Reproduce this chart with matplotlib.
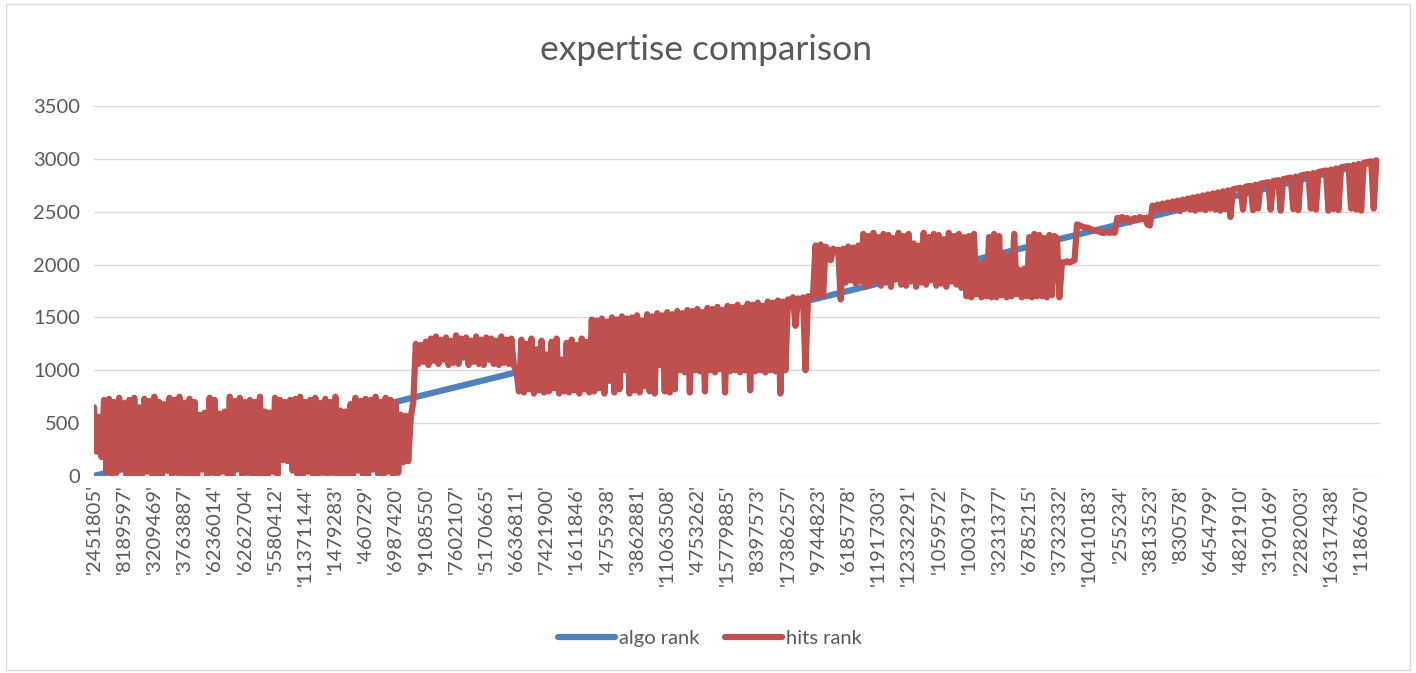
import numpy as np
import matplotlib
matplotlib.use("Agg")
import matplotlib.pyplot as plt
from matplotlib.lines import Line2D
from matplotlib.patches import Rectangle

# ---------------- data ----------------
title = "expertise comparison"
series_names = ["algo rank", "hits rank"]

tick_labels = ["'2451805'", "'8189597'", "'3209469'", "'3763887'", "'6236014'", "'6262704'",
               "'5580412'", "'11371144'", "'1479283'", "'460729'", "'6987420'", "'9108550'",
               "'7602107'", "'5170665'", "'6636811'", "'7421900'", "'1611846'", "'4755938'",
               "'3862881'", "'11063508'", "'4753262'", "'15779885'", "'8397573'", "'17386257'",
               "'9744823'", "'6185778'", "'11917303'", "'12332291'", "'1059572'", "'1003197'",
               "'3231377'", "'6785215'", "'3732332'", "'10410183'", "'255234'", "'3813523'",
               "'830578'", "'6454799'", "'4821910'", "'3190169'", "'2282003'", "'16317438'",
               "'1186670'"]

# algo rank at each labelled category, plus the last category
algo_rank = [1, 71, 141, 211, 281, 351, 421, 491, 561, 631, 701, 771, 841, 911, 981,
             1051, 1121, 1191, 1261, 1331, 1401, 1471, 1541, 1611, 1681, 1751, 1821, 1891,
             1961, 2031, 2101, 2171, 2241, 2311, 2381, 2451, 2521, 2591, 2661, 2731, 2801,
             2871, 2941, 2976]

# hits rank, sampled along the categories
hits_rank = [
    # block 1
    650, 230, 560, 180, 720, 40, 730, 10,
    700, 30, 740, 60, 690, 0, 720, 20,
    740, 10, 650, 0, 730, 40, 710, 20,
    750, 20, 700, 0, 680, 50, 740, 10,
    720, 30, 750, 0, 690, 10, 730, 20,
    700, 0, 580, 60, 600, 10, 740, 30,
    720, 0, 590, 40, 610, 20, 750, 0,
    710, 60, 740, 10, 700, 30, 720, 0,
    700, 20, 750, 10, 610, 0, 600, 40,
    740, 10, 720, 150, 700, 140, 720, 50,
    730, 10, 750, 0, 700, 40, 720, 20,
    740, 0, 690, 30, 730, 10, 700, 30,
    750, 0, 620, 20, 610, 20, 680, 0,
    740, 50, 710, 10, 730, 0, 720, 60,
    750, 20, 700, 0, 740, 40, 720, 10,
    690, 30, 580, 130, 570, 140, 560, 700,
    # block 2
    1250, 1060, 1240, 1080, 1270, 1050, 1300, 1090,
    1320, 1060, 1290, 1100, 1310, 1050, 1280, 1070,
    1330, 1060, 1300, 1120, 1310, 1050, 1280, 1080,
    1320, 1060, 1290, 1050, 1310, 1100, 1300, 1060,
    1280, 1050, 1320, 1070, 1290, 1060, 1300, 1040,
    # block 3
    1000, 800, 1290, 790, 1250, 820, 1300, 780,
    1200, 810, 1280, 790, 1150, 800, 1270, 830,
    1300, 780, 1100, 800, 1260, 790, 1290, 810,
    1240, 780, 1300, 820, 1270, 790,
    # block 4
    1480, 800, 1470, 830, 1490, 780, 1460, 900,
    1500, 790, 1480, 820, 1510, 1000, 1490, 780,
    1500, 810, 1520, 790, 1470, 850, 1530, 800,
    1510, 780, 1540, 1050, 1520, 800, 1550, 790,
    1530, 820, 1560, 1000, 1540, 980, 1570, 790,
    1560, 1000, 1580, 990, 1550, 800, 1590, 1000,
    1580, 980, 1600, 1010, 1570, 790, 1610, 990,
    1600, 1000, 1620, 980, 1590, 1000, 1630, 810,
    1620, 990, 1640, 1000, 1610, 980, 1650, 1000,
    1640, 990, 1660, 780, 1650, 1000, 1670,
    1660, 1690, 1420, 1680, 1650, 1690, 1000, 1700, 1690, 1720,
    # block 5
    2180, 1700, 2190, 1710, 2170, 2140, 2040, 2150, 2130, 2140,
    1670, 2150, 1830, 2170, 1850, 2160, 1820, 2180, 1840, 2290,
    1790, 2270, 1820, 2300, 1850, 2260, 1800, 2290,
    1830, 2280, 1790, 2250, 1860, 2300, 1810, 2270,
    1800, 2290, 1840, 2200, 1790, 2180, 1830, 2300,
    1810, 2260, 1850, 2290, 1800, 2280, 1820, 2240,
    1790, 2300, 1840, 2270, 1810, 2290, 1780, 2260,
    1700, 2270, 1690, 2290, 1720, 2000, 1690, 2020,
    1700, 2260, 1690, 2290, 1690, 2270, 1710, 2100,
    1690, 2080, 1700, 2290, 1720, 1950, 1690, 1960,
    1700, 2260, 1690, 2290, 1700, 2280, 1700, 2250,
    1690, 2280, 1710, 2270, 2250, 1690,
    # block 6
    2020, 2020, 2030, 2020, 2030, 2040,
    2380, 2370, 2360, 2350, 2350, 2340, 2330, 2320,
    2320, 2310, 2300, 2300, 2310, 2300, 2310, 2300,
    2440, 2430, 2450, 2420, 2440, 2400, 2430, 2440,
    2420, 2450, 2430, 2440, 2380, 2370,
    # block 7
    2558, 2520, 2567, 2510, 2577, 2530, 2587, 2515, 2596, 2525,
    2606, 2505, 2615, 2530, 2625, 2520, 2635, 2510, 2644, 2525,
    2654, 2515, 2664, 2530, 2673, 2520, 2683, 2510, 2693, 2525,
    2702, 2450, 2712, 2717, 2721, 2726, 2520, 2736, 2741, 2745,
    2515, 2755, 2530, 2765, 2770, 2774, 2779, 2520, 2789, 2794,
    2798, 2510, 2808, 2813, 2818, 2822, 2525, 2832, 2515, 2842,
    2847, 2851, 2856, 2530, 2866, 2520, 2875, 2880, 2885, 2890,
    2510, 2899, 2525, 2909, 2515, 2919, 2924, 2928, 2933, 2530,
    2943, 2520, 2952, 2510, 2962, 2967, 2972, 2976, 2530, 2986,
]

# ---------------- style ----------------
BLUE = "#4F81BD"
RED = "#C0504D"
TXT = "#595959"
GRID = "#D9D9D9"
FONT = ["Lato", "DejaVu Sans"]
plt.rcParams["font.family"] = FONT
plt.rcParams["path.simplify"] = False

W, H = 1416, 673
fig = plt.figure(figsize=(W / 100, H / 100), dpi=100)
fig.patch.set_facecolor("white")

# chart-area border
fig.patches.append(Rectangle((6 / W, 3 / H), (1410 - 6) / W, (669 - 3) / H,
                             transform=fig.transFigure, fill=False,
                             edgecolor=GRID, linewidth=1.0))

ax = fig.add_axes([94 / W, (H - 476) / H, (1380 - 94) / W, (476 - 106) / H])

step = 12
n = len(hits_rank)
x_hits = np.arange(n)
tick_pos = np.arange(len(tick_labels)) * step
x_algo = list(tick_pos) + [n - 1]

LW = 4.5
ax.plot(x_algo, algo_rank, color=BLUE, lw=LW, solid_capstyle="round",
        solid_joinstyle="round", zorder=3)
ax.plot(x_hits, hits_rank, color=RED, lw=LW, solid_capstyle="round",
        solid_joinstyle="round", zorder=4)

ax.set_xlim(0, 511.5)
ax.set_ylim(0, 3500)
ax.set_yticks(np.arange(0, 3501, 500))
ax.set_xticks(tick_pos)
ax.set_xticklabels(tick_labels, rotation=90)
for s in ax.spines.values():
    s.set_visible(False)
ax.grid(axis="y", color=GRID, lw=1.0, zorder=0)
ax.set_axisbelow(True)
ax.tick_params(axis="both", length=0, colors=TXT, labelsize=14.5)
ax.tick_params(axis="y", pad=10)
ax.tick_params(axis="x", pad=6)

fig.text(706 / W, 1 - 50 / H, title, ha="center", va="center",
         fontsize=25.5, color=TXT)

handles = [Line2D([], [], color=BLUE, lw=LW, solid_capstyle="round"),
           Line2D([], [], color=RED, lw=LW, solid_capstyle="round")]
fig.legend(handles, series_names, loc="center", bbox_to_anchor=(710 / W, 1 - 638 / H),
           ncol=2, frameon=False, fontsize=14.5, labelcolor=TXT,
           handlelength=2.8, handletextpad=0.2, columnspacing=1.3)

fig.savefig("out.png", dpi=100, facecolor="white")
